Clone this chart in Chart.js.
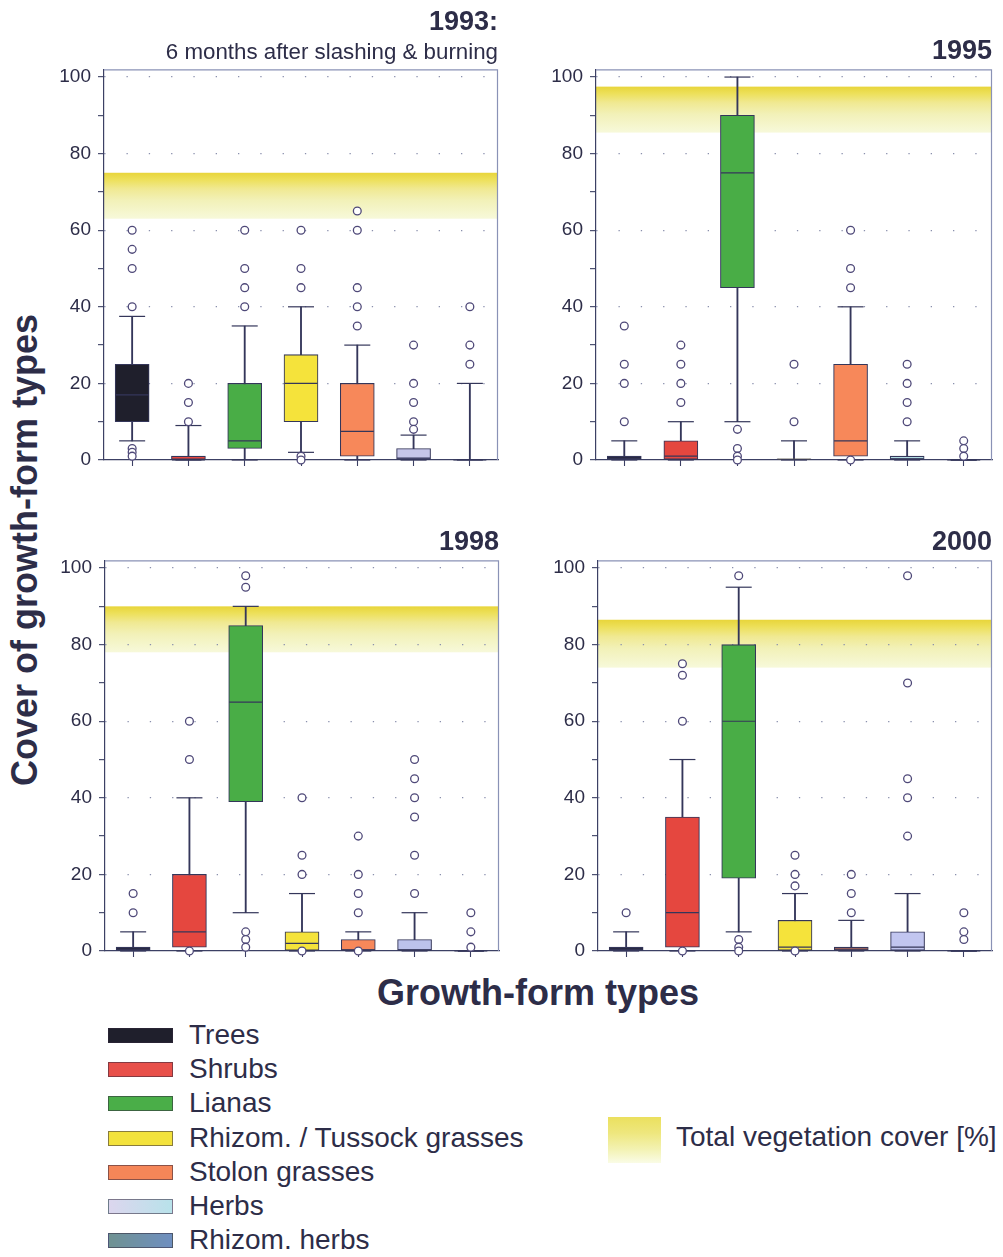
<!DOCTYPE html>
<html>
<head>
<meta charset="utf-8">
<title>Cover of growth-form types</title>
<script src="https://cdn.jsdelivr.net/npm/chart.js@4/dist/chart.umd.min.js"></script>
<style>
  html, body { margin: 0; padding: 0; background: #fff; }
  #page {
    position: relative; width: 1003px; height: 1257px; overflow: hidden; background: #fff;
    font-family: "Liberation Sans", Arial, Helvetica, sans-serif; color: #2d2d48;
  }
  .panel { position: absolute; }
  .panel canvas { display: block; }
  #ytitle {
    position: absolute; left: 25px; top: 550px; white-space: nowrap;
    font-weight: bold; font-size: 36px; line-height: 1;
    transform: translate(-50%, -50%) rotate(-90deg);
  }
  #xtitle {
    position: absolute; left: 538px; top: 974.5px; white-space: nowrap;
    font-weight: bold; font-size: 36px; line-height: 1;
    transform: translateX(-50%);
  }
  .legend-row {
    position: absolute; left: 108px; height: 30px; white-space: nowrap;
  }
  .legend-row .swatch {
    position: absolute; left: 0; top: 6px; width: 63px; height: 13px;
    border: 1px solid rgba(50, 40, 60, 0.55);
  }
  .legend-row .label {
    position: absolute; left: 81px; top: -1px; font-size: 28px; line-height: 1;
  }
  #coverSwatch {
    position: absolute; left: 608px; top: 1117px; width: 53px; height: 46px;
    background: linear-gradient(to bottom, #ebe05e 0%, #eee77e 35%, #f3f2b2 70%, #fafce6 100%);
  }
  #coverLabel {
    position: absolute; left: 676px; top: 1123px; font-size: 28px; line-height: 1; white-space: nowrap;
  }
</style>
</head>
<body>
<div id="page">
  <div class="panel" style="left:50px;top:0px;"><canvas id="c1993" width="460" height="480"></canvas></div>
  <div class="panel" style="left:540px;top:0px;"><canvas id="c1995" width="463" height="480"></canvas></div>
  <div class="panel" style="left:50px;top:491px;"><canvas id="c1998" width="461" height="480"></canvas></div>
  <div class="panel" style="left:540px;top:491px;"><canvas id="c2000" width="463" height="480"></canvas></div>

  <div id="ytitle">Cover of growth-form types</div>
  <div id="xtitle">Growth-form types</div>

  <div id="legend"></div>
  <div id="coverSwatch"></div>
  <div id="coverLabel">Total vegetation cover [%]</div>
</div>

<script>
// Growth-form categories (x axis)
const growthForms = ['Trees', 'Shrubs', 'Lianas', 'Rhizom. / Tussock grasses', 'Stolon grasses', 'Herbs', 'Rhizom. herbs'];

// Box-plot statistics per survey year (cover in %)
const whiskerLow1993  = [5, 0, 0, 2, 0, 0, 0];
const quartile1_1993  = [10, 0, 3, 10, 1, 0, 0];
const median1993      = [17, 0, 5, 20, 7.5, 0.5, 0];
const quartile3_1993  = [25, 1, 20, 27.5, 20, 3, 0];
const whiskerHigh1993 = [37.5, 9, 35, 40, 30, 6.5, 20];
const outliers1993    = [[60, 55, 50, 40, 3, 2, 1], [20, 15, 10], [60, 50, 45, 40], [60, 50, 45, 1, 0], [65, 60, 45, 40, 35], [30, 20, 15, 10, 8], [40, 30, 25]];

const whiskerLow1995  = [0, 0, 10, 0, 0, 0, 0];
const quartile1_1995  = [0, 0, 45, 0, 1, 0, 0];
const median1995      = [0.5, 1, 75, 0.2, 5, 0.3, 0];
const quartile3_1995  = [1, 5, 90, 0.3, 25, 1, 0];
const whiskerHigh1995 = [5, 10, 100, 5, 40, 5, 0];
const outliers1995    = [[35, 25, 20, 10], [30, 25, 20, 15], [8, 3, 1, 0], [25, 10], [60, 50, 45, 0], [25, 20, 15, 10], [5, 3, 1]];

const whiskerLow1998  = [0, 0, 10, 0, 0, 0, 0];
const quartile1_1998  = [0, 1, 39, 0, 0, 0, 0];
const median1998      = [0.5, 5, 65, 2, 0.3, 0.3, 0];
const quartile3_1998  = [1, 20, 85, 5, 3, 3, 0];
const whiskerHigh1998 = [5, 40, 90, 15, 5, 10, 0];
const outliers1998    = [[15, 10], [60, 50, 0], [98, 95, 5, 3, 1], [40, 25, 20, 0], [30, 20, 15, 10, 0], [50, 45, 40, 35, 25, 15], [10, 5, 1]];

const whiskerLow2000  = [0, 0, 5, 0, 0, 0, 0];
const quartile1_2000  = [0, 1, 19, 0, 0, 0, 0];
const median2000      = [0.5, 10, 60, 1, 0.5, 1, 0];
const quartile3_2000  = [1, 35, 80, 8, 1, 5, 0];
const whiskerHigh2000 = [5, 50, 95, 15, 8, 15, 0];
const outliers2000    = [[10], [75, 72, 60, 0], [98, 3, 1, 0], [25, 20, 17, 0], [20, 15, 10], [98, 70, 45, 40, 30], [10, 5, 3]];

// Total vegetation cover range per year (band), in %
const coverLow  = [63, 85.5, 78, 74];
const coverHigh = [75, 97.5, 90, 86.5];

// Y axis tick values
const yTickStep = 10;
const yLabelStep = 20;

// Styling
const FONT = '"Liberation Sans", Arial, Helvetica, sans-serif';
const TEXT = '#2d2d48';
const LINE = '#34365a';
const OUTLIER = '#4e4878';
const AXIS = '#3c4064';
const DOT = '#8a90ad';
const FRAME = '#8a92b6';
const formColors = ['#1f1f2c', '#e5473f', '#49ad46', '#f5e33b', '#f7885a', '#c4c7ec', '#7193ab'];
const legendFills = [
  '#1f1f2c', '#e8504a', '#4aae48', '#f3e23c', '#f58658',
  'linear-gradient(to right, #dcd6ee, #b8e2ea)',
  'linear-gradient(to right, #6f9292, #6f8fc0)'
];

// Legend for the growth forms
const legendEl = document.getElementById('legend');
growthForms.forEach((name, i) => {
  const row = document.createElement('div');
  row.className = 'legend-row';
  row.style.top = (1022 + i * 34.2) + 'px';
  const sw = document.createElement('div');
  sw.className = 'swatch';
  sw.style.background = legendFills[i];
  const lb = document.createElement('div');
  lb.className = 'label';
  lb.textContent = name;
  row.appendChild(sw);
  row.appendChild(lb);
  legendEl.appendChild(row);
});

// Yellow band for total vegetation cover, painted under the grid
const coverBandPlugin = {
  id: 'coverBand',
  beforeDraw(chart, args, opts) {
    const { ctx, chartArea, scales } = chart;
    if (!chartArea || opts.high == null) return;
    const yTop = scales.y.getPixelForValue(opts.high);
    const yBot = scales.y.getPixelForValue(opts.low);
    const g = ctx.createLinearGradient(0, yTop, 0, yBot);
    g.addColorStop(0, '#e8d53a');
    g.addColorStop(0.15, '#ede05a');
    g.addColorStop(0.35, '#f0e992');
    g.addColorStop(0.6, '#f2f1b8');
    g.addColorStop(1, '#f7f9da');
    ctx.save();
    ctx.fillStyle = g;
    ctx.fillRect(chartArea.left, yTop, chartArea.right - chartArea.left, yBot - yTop);
    ctx.restore();
  }
};

// Thin frame along the top and right of the plot area
const framePlugin = {
  id: 'plotFrame',
  beforeDatasetsDraw(chart) {
    const { ctx, chartArea: { left, top, right, bottom } } = chart;
    ctx.save();
    ctx.strokeStyle = FRAME;
    ctx.lineWidth = 1.2;
    ctx.beginPath();
    ctx.moveTo(left, top + 0.5);
    ctx.lineTo(right - 0.5, top + 0.5);
    ctx.lineTo(right - 0.5, bottom);
    ctx.stroke();
    ctx.restore();
  }
};

function pointsAt(values) {
  return values.map((v, i) => ({ x: growthForms[i], y: v }));
}

function makeChart(p) {
  const outlierPoints = p.outliers.flatMap((vals, i) => vals.map(v => ({ x: growthForms[i], y: v })));
  const capPoints = pointsAt(p.low).concat(pointsAt(p.high));
  const boxColors = formColors.map((c, i) => (i === 5 ? p.herbsColor : c));

  const titleOpts = {
    display: true, text: p.title, align: 'end', color: TEXT,
    font: { family: FONT, size: 27, weight: 'bold' },
    padding: p.subtitle ? { top: 6.3, bottom: 0 } : { top: 35.5, bottom: 1.5 }
  };
  const subtitleOpts = p.subtitle ? {
    display: true, text: p.subtitle, align: 'end', color: TEXT,
    font: { family: FONT, size: 22.3 },
    padding: { top: 0.4, bottom: 3.5 }
  } : { display: false };

  return new Chart(document.getElementById(p.id), {
    type: 'bar',
    data: {
      labels: growthForms,
      datasets: [
        {
          type: 'line', label: 'Outliers', data: outlierPoints, showLine: false,
          pointStyle: 'circle', pointRadius: 3.9, pointBorderWidth: 1.3,
          pointBackgroundColor: '#ffffff', pointBorderColor: OUTLIER, clip: false, order: 1
        },
        {
          type: 'line', label: 'Median', data: pointsAt(p.median), showLine: false,
          pointStyle: 'line', pointRadius: 16.5, pointBorderWidth: 1.2,
          pointBorderColor: LINE, clip: false, order: 2
        },
        {
          type: 'line', label: 'Whisker caps', data: capPoints, showLine: false,
          pointStyle: 'line', pointRadius: 13, pointBorderWidth: 1.2,
          pointBorderColor: LINE, clip: false, order: 2
        },
        {
          type: 'bar', label: 'Interquartile range',
          data: p.q1.map((v, i) => [v, p.q3[i]]),
          backgroundColor: boxColors, borderColor: LINE, borderWidth: 1.1,
          borderSkipped: false, barThickness: 34, grouped: false, order: 3
        },
        {
          type: 'bar', label: 'Whiskers',
          data: p.low.map((v, i) => [v, p.high[i]]),
          backgroundColor: LINE, borderWidth: 0, barThickness: 1.2, grouped: false, order: 4
        }
      ]
    },
    options: {
      responsive: false,
      animation: false,
      events: [],
      layout: { autoPadding: false, padding: { left: 0, right: p.padRight, top: 0, bottom: 0 } },
      plugins: {
        legend: { display: false },
        tooltip: { enabled: false },
        title: titleOpts,
        subtitle: subtitleOpts,
        coverBand: { low: p.coverLow, high: p.coverHigh }
      },
      scales: {
        x: {
          type: 'category', offset: true,
          afterFit(scale) { scale.height = 20; },
          ticks: { display: false },
          grid: { display: true, drawOnChartArea: false, drawTicks: true, tickLength: 6, tickColor: AXIS, tickWidth: 1.1, offset: false },
          border: { display: true, color: AXIS, width: 1.2 }
        },
        y: {
          type: 'linear', min: 0, max: 102,
          afterFit(scale) { scale.width = p.axisWidth; },
          ticks: {
            stepSize: yTickStep, includeBounds: false, autoSkip: false, padding: 7, color: TEXT,
            font: { family: FONT, size: 19 },
            callback: v => (v % yLabelStep === 0 ? String(v) : '')
          },
          grid: {
            color: c => (c.tick && c.tick.value % yLabelStep === 0 && c.tick.value > 0) ? DOT : 'rgba(0,0,0,0)',
            lineWidth: 1.3, drawTicks: true, tickLength: 6, tickColor: AXIS, tickWidth: 1.1, tickBorderDash: [0, 0]
          },
          border: { display: true, color: AXIS, width: 1.2, dash: [1.3, 21] }
        }
      }
    },
    plugins: [coverBandPlugin, framePlugin]
  });
}

const panels = [
  { id: 'c1993', title: '1993:', subtitle: '6 months after slashing & burning', axisWidth: 54, padRight: 12, herbsColor: '#c6c6e8',
    low: whiskerLow1993, q1: quartile1_1993, median: median1993, q3: quartile3_1993, high: whiskerHigh1993,
    outliers: outliers1993, coverLow: coverLow[0], coverHigh: coverHigh[0] },
  { id: 'c1995', title: '1995', axisWidth: 56, padRight: 11, herbsColor: '#b2dce2',
    low: whiskerLow1995, q1: quartile1_1995, median: median1995, q3: quartile3_1995, high: whiskerHigh1995,
    outliers: outliers1995, coverLow: coverLow[1], coverHigh: coverHigh[1] },
  { id: 'c1998', title: '1998', axisWidth: 55, padRight: 12, herbsColor: '#bcc2ec',
    low: whiskerLow1998, q1: quartile1_1998, median: median1998, q3: quartile3_1998, high: whiskerHigh1998,
    outliers: outliers1998, coverLow: coverLow[2], coverHigh: coverHigh[2] },
  { id: 'c2000', title: '2000', axisWidth: 58, padRight: 11, herbsColor: '#c2c6f0',
    low: whiskerLow2000, q1: quartile1_2000, median: median2000, q3: quartile3_2000, high: whiskerHigh2000,
    outliers: outliers2000, coverLow: coverLow[3], coverHigh: coverHigh[3] }
];

panels.forEach(makeChart);
</script>
</body>
</html>
